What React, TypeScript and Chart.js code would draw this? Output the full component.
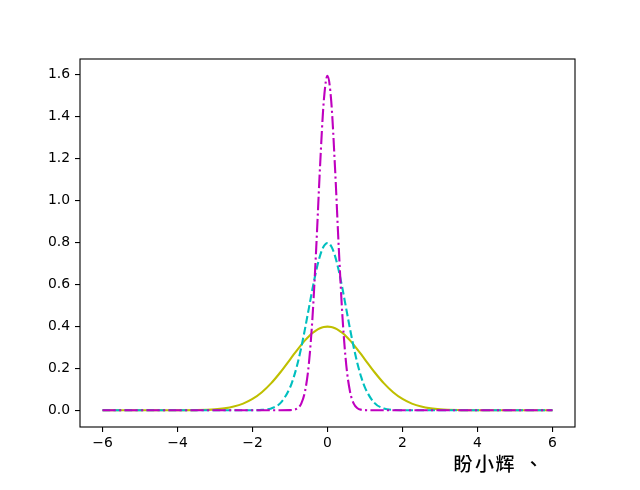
import React, { useEffect, useRef } from "react";
import { Chart, registerables } from "chart.js";

Chart.register(...registerables);

const xValues = [
  -6, -5, -4, -3.5, -3, -2.75, -2.5, -2.25, -2, -1.75, -1.5, -1.25, -1,
  -0.9, -0.8, -0.7, -0.6, -0.5, -0.4, -0.3, -0.2, -0.1, 0,
  0.1, 0.2, 0.3, 0.4, 0.5, 0.6, 0.7, 0.8, 0.9,
  1, 1.25, 1.5, 1.75, 2, 2.25, 2.5, 2.75, 3, 3.5, 4, 5, 6,
];

const yellowValues = [
  0, 0, 0.0001, 0.0009, 0.0044, 0.0091, 0.0175, 0.0317, 0.054, 0.0863, 0.1295, 0.1826, 0.242,
  0.2661, 0.2897, 0.3123, 0.3332, 0.3521, 0.3683, 0.3814, 0.391, 0.397, 0.3989,
  0.397, 0.391, 0.3814, 0.3683, 0.3521, 0.3332, 0.3123, 0.2897, 0.2661,
  0.242, 0.1826, 0.1295, 0.0863, 0.054, 0.0317, 0.0175, 0.0091, 0.0044, 0.0009, 0.0001, 0, 0,
];

const cyanValues = [
  0, 0, 0, 0, 0, 0, 0, 0, 0.0003, 0.0017, 0.0089, 0.0351, 0.108,
  0.1579, 0.2218, 0.2995, 0.3884, 0.4839, 0.5794, 0.6664, 0.7365, 0.7821, 0.7979,
  0.7821, 0.7365, 0.6664, 0.5794, 0.4839, 0.3884, 0.2995, 0.2218, 0.1579,
  0.108, 0.0351, 0.0089, 0.0017, 0.0003, 0, 0, 0, 0, 0, 0, 0, 0,
];

const magentaValues = [
  0, 0, 0, 0, 0, 0, 0, 0, 0, 0, 0, 0, 0.0005,
  0.0024, 0.0095, 0.0317, 0.0896, 0.216, 0.4437, 0.7767, 1.1588, 1.4731, 1.5958,
  1.4731, 1.1588, 0.7767, 0.4437, 0.216, 0.0896, 0.0317, 0.0095, 0.0024,
  0.0005, 0, 0, 0, 0, 0, 0, 0, 0, 0, 0, 0, 0,
];

const xTicks = [-6, -4, -2, 0, 2, 4, 6];
const yTicks = [0, 0.2, 0.4, 0.6, 0.8, 1.0, 1.2, 1.4, 1.6];
const captionChars = ["盼", "小", "辉", "、"];

const toPoints = (ys: number[]) => xValues.map((x, i) => ({ x, y: ys[i] }));

export default function App() {
  const ref = useRef<HTMLCanvasElement | null>(null);

  useEffect(() => {
    if (!ref.current) return;
    const framePlugin = {
      id: "frame",
      afterDraw(chart: any) {
        const { ctx, chartArea } = chart;
        ctx.save();
        ctx.strokeStyle = "#000";
        ctx.lineWidth = 1.1;
        ctx.strokeRect(chartArea.left, chartArea.top, chartArea.right - chartArea.left, chartArea.bottom - chartArea.top);
        ctx.fillStyle = "#000";
        ctx.font = '500 19px "Noto Sans CJK TC"';
        ctx.textBaseline = "middle";
        ctx.textAlign = "center";
        const centers = [463, 484.5, 505, 533.5];
        captionChars.forEach((c, i) => ctx.fillText(c, centers[i], 464));
        ctx.restore();
      },
    };
    const common = {
      fill: false,
      pointRadius: 0,
      borderWidth: 2.1,
      cubicInterpolationMode: "monotone" as const,
    };
    const chart = new Chart(ref.current, {
      type: "line",
      data: {
        datasets: [
          { ...common, data: toPoints(yellowValues), borderColor: "#bfbf00", order: 3 },
          { ...common, data: toPoints(cyanValues), borderColor: "#00bfbf", borderDash: [7.7, 3.3], order: 2 },
          { ...common, data: toPoints(magentaValues), borderColor: "#bf00bf", borderDash: [13.3, 3.3, 2.1, 3.3], order: 1 },
        ],
      },
      options: {
        animation: false,
        responsive: false,
        devicePixelRatio: 1,
        layout: { padding: { left: 0, top: 59, right: 65, bottom: 33 } },
        plugins: { legend: { display: false }, tooltip: { enabled: false } },
        scales: {
          x: {
            type: "linear",
            min: -6.6,
            max: 6.6,
            afterFit: (s: any) => { s.height = 30; },
            afterBuildTicks: (s: any) => { s.ticks = xTicks.map((v) => ({ value: v })); },
            border: { display: false },
            grid: { drawOnChartArea: false, drawTicks: true, tickLength: 5, color: "#000", lineWidth: 1.1 },
            ticks: {
              color: "#000",
              font: { family: "DejaVu Sans", size: 13.9 },
              padding: 3,
              maxRotation: 0,
              callback: (v: any) => (v < 0 ? "\u2212" + Math.abs(v) : String(v)),
            },
          },
          y: {
            type: "linear",
            min: -0.0798,
            max: 1.6756,
            afterFit: (s: any) => { s.width = 80; },
            afterBuildTicks: (s: any) => { s.ticks = yTicks.map((v) => ({ value: v })); },
            border: { display: false },
            grid: { drawOnChartArea: false, drawTicks: true, tickLength: 5, color: "#000", lineWidth: 1.1 },
            ticks: {
              color: "#000",
              font: { family: "DejaVu Sans", size: 13.9 },
              padding: 5,
              callback: (v: any) => Number(v).toFixed(1),
            },
          },
        },
      },
      plugins: [framePlugin],
    });
    return () => chart.destroy();
  }, []);

  return (
    <div style={{ position: "absolute", left: 0, top: 0, width: 640, height: 490, background: "#fff" }}>
      <canvas ref={ref} width={640} height={490} style={{ display: "block" }} />
    </div>
  );
}
